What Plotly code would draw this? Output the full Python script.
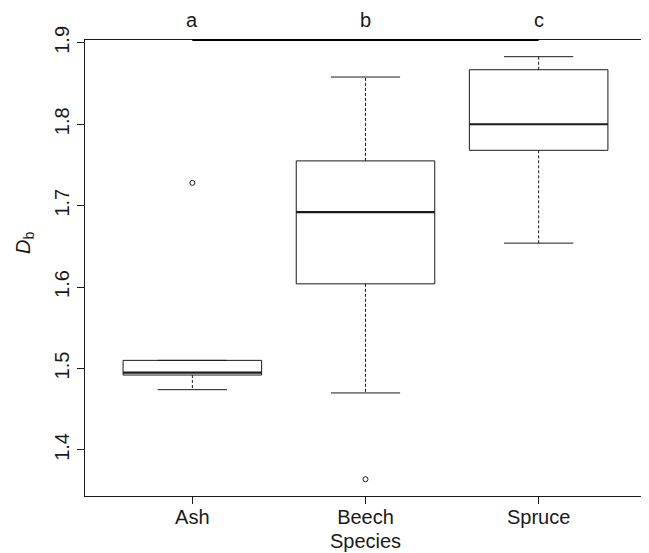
import plotly.graph_objects as go

species = ["Ash", "Beech", "Spruce"]
lower_whisker = [1.474, 1.470, 1.654]
q1 = [1.492, 1.604, 1.768]
median = [1.495, 1.692, 1.800]
q3 = [1.510, 1.755, 1.867]
upper_whisker = [1.510, 1.858, 1.883]
outlier_species = ["Ash", "Beech"]
outlier_values = [1.728, 1.364]
group_letters = ["a", "b", "c"]
y_ticks = [1.4, 1.5, 1.6, 1.7, 1.8, 1.9]

INK = "#1a1a1a"
FONT = "Liberation Sans, Arial, Helvetica, sans-serif"
FS = 20
pos = {s: i + 1 for i, s in enumerate(species)}
bw = 0.4   # half box width
cw = 0.2   # half cap width

box_x, box_y, med_x, med_y, wh_x, wh_y, cap_x, cap_y = [], [], [], [], [], [], [], []
for i, s in enumerate(species):
    c = pos[s]
    box_x += [c - bw, c + bw, c + bw, c - bw, c - bw, None]
    box_y += [q1[i], q1[i], q3[i], q3[i], q1[i], None]
    med_x += [c - bw, c + bw, None]
    med_y += [median[i], median[i], None]
    wh_x += [c, c, None, c, c, None]
    wh_y += [q3[i], upper_whisker[i], None, q1[i], lower_whisker[i], None]
    cap_x += [c - cw, c + cw, None, c - cw, c + cw, None]
    cap_y += [upper_whisker[i], upper_whisker[i], None, lower_whisker[i], lower_whisker[i], None]

fig = go.Figure()
fig.add_trace(go.Scatter(x=wh_x, y=wh_y, mode="lines",
                         line=dict(color=INK, width=1, dash="3px,2px"), hoverinfo="skip"))
fig.add_trace(go.Scatter(x=cap_x, y=cap_y, mode="lines",
                         line=dict(color=INK, width=1), hoverinfo="skip"))
fig.add_trace(go.Scatter(x=box_x, y=box_y, mode="lines",
                         line=dict(color=INK, width=1), hoverinfo="skip"))
fig.add_trace(go.Scatter(x=med_x, y=med_y, mode="lines",
                         line=dict(color=INK, width=2.2), hoverinfo="skip"))
fig.add_trace(go.Scatter(x=[pos[s] for s in outlier_species], y=outlier_values, mode="markers",
                         marker=dict(symbol="circle-open", size=5, color=INK, line=dict(width=1)),
                         hoverinfo="skip"))

# significance line along the top
fig.add_shape(type="line", xref="x", yref="paper", x0=pos[species[0]], x1=pos[species[-1]],
              y0=1, y1=1, line=dict(color="black", width=2))

for i, s in enumerate(species):
    fig.add_annotation(x=pos[s], y=1, xref="x", yref="paper", text=group_letters[i],
                       showarrow=False, yanchor="middle", yshift=20,
                       font=dict(family=FONT, size=FS, color=INK))

fig.add_annotation(x=0, y=0.555, xref="paper", yref="paper", text="<i>D</i><sub>b</sub>",
                   textangle=-90, showarrow=False, xanchor="center", yanchor="middle",
                   xshift=-60, font=dict(family=FONT, size=FS, color=INK))

fig.update_layout(
    width=641, height=545,
    margin=dict(l=77, r=3, t=32, b=57),
    paper_bgcolor="white", plot_bgcolor="white",
    showlegend=False,
    font=dict(family=FONT, size=FS, color=INK),
)
fig.update_xaxes(range=[0.38, 3.62], tickvals=[pos[s] for s in species], ticktext=species,
                 showgrid=False, zeroline=False, showline=True, mirror=True,
                 linecolor=INK, linewidth=1, ticks="outside", ticklen=7, tickcolor=INK,
                 ticklabelstandoff=-4,
                 title=dict(text="Species", standoff=6, font=dict(size=FS)),
                 tickfont=dict(size=FS))
fig.update_yaxes(range=[1.3434, 1.9035], tickvals=y_ticks, ticktext=[f"{v:.1f}" for v in y_ticks],
                 tickangle=-90,
                 showgrid=False, zeroline=False, showline=True, mirror=True,
                 linecolor=INK, linewidth=1, ticks="outside", ticklen=7, tickcolor=INK,
                 tickfont=dict(size=FS))

fig.write_html("out.html")
